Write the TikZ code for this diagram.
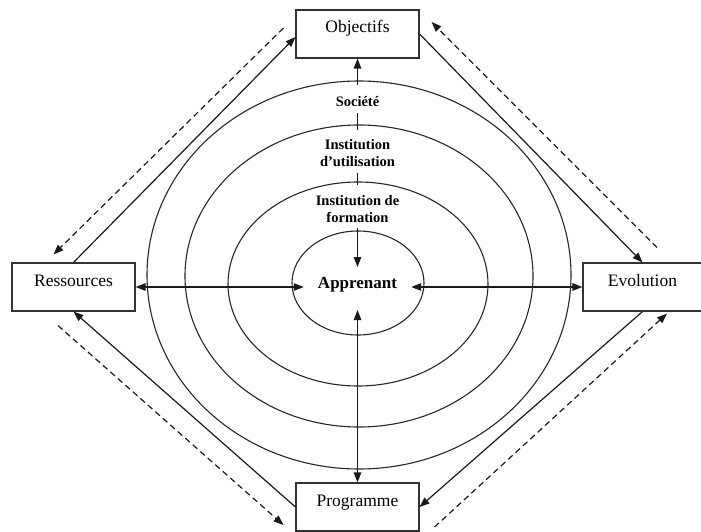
\documentclass[tikz,border=0pt]{standalone}
\usepackage{fontspec}
\setmainfont{Liberation Serif}
\usetikzlibrary{arrows.meta}
\begin{document}
\begin{tikzpicture}[x=1pt,y=-1pt,
  ring/.style={draw=black!85, line width=1.1pt},
  box/.style={draw=black!80, line width=1.1pt, fill=white, minimum width=123pt,
    inner xsep=0pt, inner ysep=0pt, text height=23pt, text depth=25pt,
    font=\fontsize{17.5}{20}\selectfont},
  lab/.style={font=\fontsize{14.5}{17.5}\selectfont\bfseries, align=center, inner sep=0pt},
  conn/.style={line width=1.2pt, draw=black!90},
  tip/.style={-{Triangle[length=10pt,width=7.5pt]}},
  dtip/.style={{Triangle[length=10pt,width=7.5pt]}-{Triangle[length=10pt,width=7.5pt]}},
  dashline/.style={dash pattern=on 6pt off 4pt}
]
\useasboundingbox (0,0) rectangle (701,532);
% rings
\draw[ring] (359,275) ellipse [x radius=212pt, y radius=194pt];
\draw[ring] (359,276) ellipse [x radius=174pt, y radius=151pt];
\draw[ring] (358,284) ellipse [x radius=130pt, y radius=102pt];
\draw[ring] (358,283) ellipse [x radius=66pt, y radius=52pt];
% boxes
\node[box] (obj) at (357.5,34) {Objectifs};
\node[box] (res) at (73.5,287) {Ressources};
\node[box, minimum width=119pt] (evo) at (642.5,287) {Evolution};
\node[box] (prog) at (357.5,507) {Programme};
% labels
\node[lab] (soc) at (357.5,102) {Société};
\node[lab] (inst2) at (357.5,153) {Institution\\d'utilisation};
\node[lab] (inst3) at (357.5,209) {Institution de\\formation};
\node[lab, font=\fontsize{17}{20}\selectfont\bfseries, inner xsep=14pt] (app) at (357.5,285) {Apprenant};
% vertical chain
\draw[conn,tip] ([yshift=17pt]soc.center) -- (obj.south);
\draw[conn] ([yshift=-11pt]soc.center) -- ([yshift=23pt]inst2.center);
\draw[conn] ([yshift=-20pt]inst2.center) -- ([yshift=24pt]inst3.center);
\draw[conn,tip] ([yshift=-19pt]inst3.center) -- ([yshift=18pt]app.center);
% horizontal and vertical double arrows
\draw[conn,dtip] (res.east) -- (res.east -| app.west);
\draw[conn,dtip] (evo.west -| app.east) -- (evo.west);
\draw[conn,dtip] ([yshift=-25pt]app.center) -- (prog.north);
% solid diagonals
\draw[conn,tip] (res.north) -- ([yshift=-3pt]obj.west);
\draw[conn,tip] (obj.east) -- (evo.north);
\draw[conn,tip] (evo.south) -- (prog.east);
\draw[conn,tip] (prog.west) -- (res.south);
% dashed diagonals
\draw[conn,dashline,tip] ([xshift=-12pt,yshift=6pt]obj.west) -- ([xshift=-20pt,yshift=8pt]res.north);
\draw[conn,dashline,tip] ([xshift=14.5pt,yshift=15pt]evo.north) -- ([xshift=12pt,yshift=12pt]obj.east);
\draw[conn,dashline,tip] ([xshift=15pt,yshift=-20pt]prog.east) -- ([xshift=24.5pt,yshift=-2pt]evo.south);
\draw[conn,dashline,tip] ([xshift=-15.5pt,yshift=-14pt]res.south) -- ([xshift=-12pt,yshift=-18pt]prog.west);
\end{tikzpicture}
\end{document}
